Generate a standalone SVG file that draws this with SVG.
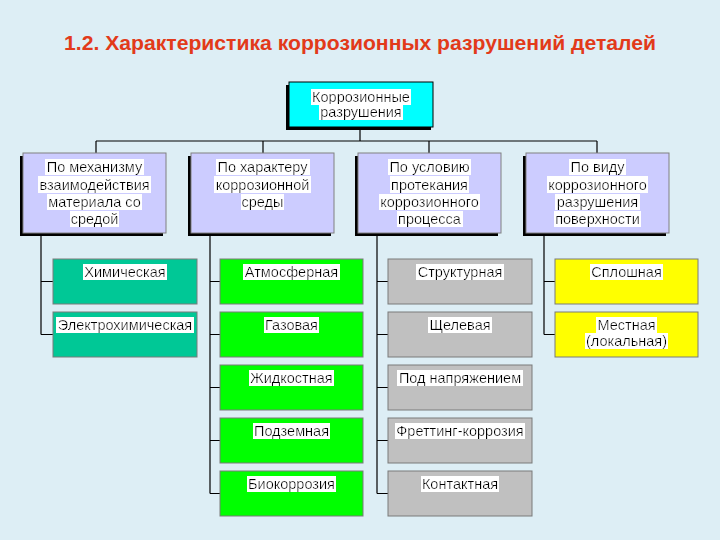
<svg xmlns="http://www.w3.org/2000/svg" width="720" height="540" viewBox="0 0 720 540">
<defs>
<filter id="hl" x="-0.01" y="0" width="1.02" height="1"><feFlood flood-color="#ffffff"/><feComposite in="SourceGraphic" operator="over"/></filter>
<style>
.t{font-family:"Liberation Sans",Arial,sans-serif;font-size:14.5px;fill:#000;text-anchor:middle;filter:url(#hl)}
.sh{fill:#000}
.l2{fill:#ccccff;stroke:#808080;stroke-width:1}
.c{stroke:#7a7a7a;stroke-width:1}
.teal{fill:#00c896}
.grn{fill:#00ff00}
.gry{fill:#c0c0c0}
.yel{fill:#ffff00}
.ln{stroke:#000;stroke-width:1.2;fill:none}
</style>
</defs>
<rect width="720" height="540" fill="#ddeef5"/>
<text x="360" y="50" font-family="Liberation Sans,Arial,sans-serif" font-weight="bold" font-size="21" fill="#e23a1a" text-anchor="middle" textLength="592" lengthAdjust="spacingAndGlyphs">1.2. Характеристика коррозионных разрушений деталей</text>

<g id="connectors">
<path class="ln" d="M360,127V141M96,141H597M96,141V153M263,141V153M429,141V153M597,141V153"/>
<path class="ln" d="M41,234V334.5M41,281.5H53M41,334.5H53"/>
<path class="ln" d="M210,234V493.5M210,281.5H220M210,334.5H220M210,387.5H220M210,440.5H220M210,493.5H220"/>
<path class="ln" d="M377,234V493.5M377,281.5H388M377,334.5H388M377,387.5H388M377,440.5H388M377,493.5H388"/>
<path class="ln" d="M544,234V334.5M544,281.5H555M544,334.5H555"/>
</g>

<g id="root">
<rect class="sh" x="286" y="85" width="145" height="45"/>
<rect x="289" y="82" width="144" height="45" fill="#00ffff" stroke="#000" stroke-width="1"/>
<text class="t" x="361" y="102">Коррозионные</text>
<text class="t" x="361" y="117">разрушения</text>
</g>

<g id="cat1">
<rect class="sh" x="20" y="156" width="143" height="80"/>
<rect class="l2" x="23" y="153" width="143" height="80"/>
<text class="t" x="94.5" y="172">По механизму</text>
<text class="t" x="94.5" y="189.5">взаимодействия</text>
<text class="t" x="94.5" y="207">материала со</text>
<text class="t" x="94.5" y="224">средой</text>
</g>
<g id="cat2">
<rect class="sh" x="188" y="156" width="143" height="80"/>
<rect class="l2" x="191" y="153" width="143" height="80"/>
<text class="t" x="262.5" y="172">По характеру</text>
<text class="t" x="262.5" y="189.5">коррозионной</text>
<text class="t" x="262.5" y="207">среды</text>
</g>
<g id="cat3">
<rect class="sh" x="355" y="156" width="143" height="80"/>
<rect class="l2" x="358" y="153" width="143" height="80"/>
<text class="t" x="429.5" y="172">По условию</text>
<text class="t" x="429.5" y="189.5">протекания</text>
<text class="t" x="429.5" y="207">коррозионного</text>
<text class="t" x="429.5" y="224">процесса</text>
</g>
<g id="cat4">
<rect class="sh" x="523" y="156" width="143" height="80"/>
<rect class="l2" x="526" y="153" width="143" height="80"/>
<text class="t" x="597.5" y="172">По виду</text>
<text class="t" x="597.5" y="189.5">коррозионного</text>
<text class="t" x="597.5" y="207">разрушения</text>
<text class="t" x="597.5" y="224">поверхности</text>
</g>

<g id="n-chem"><rect class="teal c" x="53" y="259" width="144" height="45"/><text class="t" x="125" y="277">Химическая</text></g>
<g id="n-elchem"><rect class="teal c" x="53" y="312" width="144" height="45"/><text class="t" x="125" y="330">Электрохимическая</text></g>

<g id="n-atm"><rect class="grn c" x="220" y="259" width="143" height="45"/><text class="t" x="291.5" y="277">Атмосферная</text></g>
<g id="n-gas"><rect class="grn c" x="220" y="312" width="143" height="45"/><text class="t" x="291.5" y="330">Газовая</text></g>
<g id="n-liq"><rect class="grn c" x="220" y="365" width="143" height="45"/><text class="t" x="291.5" y="383">Жидкостная</text></g>
<g id="n-under"><rect class="grn c" x="220" y="418" width="143" height="45"/><text class="t" x="291.5" y="436">Подземная</text></g>
<g id="n-bio"><rect class="grn c" x="220" y="471" width="143" height="45"/><text class="t" x="291.5" y="489">Биокоррозия</text></g>

<g id="n-struct"><rect class="gry c" x="388" y="259" width="144" height="45"/><text class="t" x="460" y="277">Структурная</text></g>
<g id="n-slot"><rect class="gry c" x="388" y="312" width="144" height="45"/><text class="t" x="460" y="330">Щелевая</text></g>
<g id="n-stress"><rect class="gry c" x="388" y="365" width="144" height="45"/><text class="t" x="460" y="383">Под напряжением</text></g>
<g id="n-fret"><rect class="gry c" x="388" y="418" width="144" height="45"/><text class="t" x="460" y="436">Фреттинг-коррозия</text></g>
<g id="n-contact"><rect class="gry c" x="388" y="471" width="144" height="45"/><text class="t" x="460" y="489">Контактная</text></g>

<g id="n-solid"><rect class="yel c" x="555" y="259" width="143" height="45"/><text class="t" x="626.5" y="277">Сплошная</text></g>
<g id="n-local"><rect class="yel c" x="555" y="312" width="143" height="45"/><text class="t" x="626.5" y="330">Местная</text><text class="t" x="626.5" y="346">(локальная)</text></g>
</svg>
